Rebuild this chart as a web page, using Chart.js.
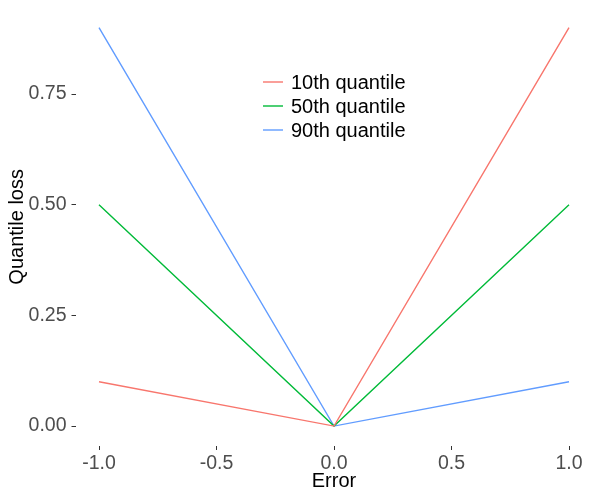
<!DOCTYPE html>
<html>
<head>
<meta charset="utf-8">
<script src="https://cdn.jsdelivr.net/npm/chart.js@4.4.0/dist/chart.umd.min.js"></script>
<style>
  html, body { margin: 0; padding: 0; background: #fff; }
  #wrap { width: 600px; height: 500px; position: relative; }
</style>
</head>
<body>
<div id="wrap"><canvas id="myChart"></canvas></div>
<script>
// error values along the x axis
const errors = [-1, 0, 1];
const loss10 = [0.1, 0, 0.9];
const loss50 = [0.5, 0, 0.5];
const loss90 = [0.9, 0, 0.1];
const seriesNames = ['10th quantile', '50th quantile', '90th quantile'];
const xTicks = [-1, -0.5, 0, 0.5, 1];
const yTicks = [0, 0.25, 0.5, 0.75];

const colors = ['#F8766D', '#00BA38', '#619CFF'];
const FONT = '"Liberation Sans", Arial, sans-serif';

function points(vals) {
    return errors.map(function(e, i) { return {x: e, y: vals[i]}; });
}

// legend drawn inside the plot, ggplot style
const insideLegend = {
    id: 'insideLegend',
    afterDraw: function(chart) {
        const ctx = chart.ctx;
        ctx.save();
        ctx.font = '20px ' + FONT;
        ctx.textBaseline = 'middle';
        ctx.fillStyle = '#000';
        chart.data.datasets.forEach(function(ds, i) {
            const y = 82 + i * 24;
            ctx.strokeStyle = ds.borderColor;
            ctx.lineWidth = 1.4;
            ctx.beginPath();
            ctx.moveTo(263, y);
            ctx.lineTo(283, y);
            ctx.stroke();
            ctx.fillText(ds.label, 291, y + 1);
        });
        ctx.restore();
    }
};

document.addEventListener('DOMContentLoaded', function() {
    const ctx = document.getElementById('myChart');
    const tickFont = { family: FONT, size: 19.5 };
    new Chart(ctx, {
        type: 'line',
        data: {
            datasets: [loss10, loss50, loss90].map(function(vals, i) {
                return {
                    label: seriesNames[i],
                    data: points(vals),
                    borderColor: colors[i],
                    backgroundColor: colors[i],
                    borderWidth: 1.4,
                    pointRadius: 0,
                    tension: 0
                };
            })
        },
        options: {
            responsive: true,
            maintainAspectRatio: false,
            animation: false,
            layout: { padding: { top: 7.7, right: 7.5, left: 0, bottom: 0 } },
            plugins: {
                legend: { display: false },
                tooltip: { enabled: false }
            },
            scales: {
                x: {
                    type: 'linear',
                    min: -1.1,
                    max: 1.1,
                    afterBuildTicks: function(scale) {
                        scale.ticks = xTicks.map(function(v) { return {value: v}; });
                    },
                    afterFit: function(scale) {
                        scale.height = 54;
                        scale.paddingLeft = 0;
                        scale.paddingRight = 0;
                    },
                    border: { display: false },
                    grid: { drawOnChartArea: false, drawTicks: true, tickLength: 4, color: '#333', tickColor: '#333' },
                    ticks: {
                        color: '#4d4d4d',
                        font: tickFont,
                        padding: 2,
                        maxRotation: 0,
                        callback: function(v) { return v.toFixed(1); }
                    },
                    title: {
                        display: true,
                        text: 'Error',
                        color: '#000',
                        font: { family: FONT, size: 20 },
                        padding: { top: 0, bottom: 7 }
                    }
                },
                y: {
                    type: 'linear',
                    min: -0.045,
                    max: 0.945,
                    afterBuildTicks: function(scale) {
                        scale.ticks = yTicks.map(function(v) { return {value: v}; });
                    },
                    afterFit: function(scale) {
                        scale.width = 75.5;
                        scale.paddingTop = 0;
                        scale.paddingBottom = 0;
                    },
                    border: { display: false },
                    grid: { drawOnChartArea: false, drawTicks: true, tickLength: 4, color: '#333', tickColor: '#333' },
                    ticks: {
                        color: '#4d4d4d',
                        font: tickFont,
                        padding: 5,
                        callback: function(v) { return v.toFixed(2); }
                    },
                    title: {
                        display: true,
                        text: 'Quantile loss',
                        color: '#000',
                        font: { family: FONT, size: 20 },
                        padding: { top: 5.5, bottom: 0 }
                    }
                }
            }
        },
        plugins: [insideLegend]
    });
});
</script>
</body>
</html>
